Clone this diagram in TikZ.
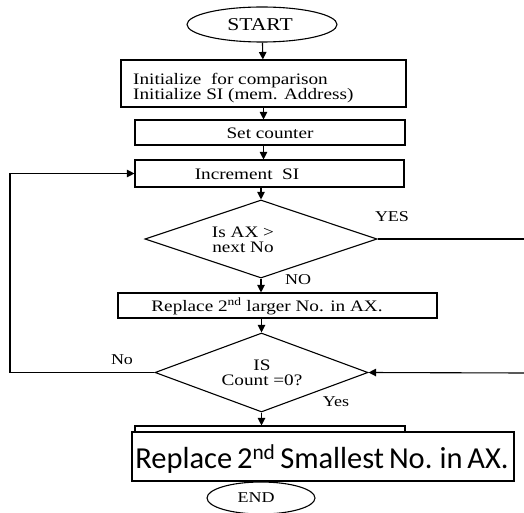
\documentclass[tikz,border=0pt]{standalone}
\usepackage{fontspec}
\setmainfont{Liberation Serif}[FakeStretch=1.2]
\newfontfamily\calib{Carlito}[WordSpace=0.7]
\usetikzlibrary{shapes.geometric,arrows.meta}
\begin{document}
\begin{tikzpicture}[x=1pt,y=-1pt,
  line/.style={line width=1.1pt},
  flow/.style={line, -{Triangle[length=7.5pt,width=7.5pt]}},
  box/.style={draw, line width=1.1pt, inner sep=0pt, rectangle},
  decision/.style={draw, diamond, line width=1.1pt, inner sep=0pt},
  terminal/.style={draw, ellipse, line width=1.1pt, inner sep=0pt},
  txt/.style={font=\fontsize{16}{15}\selectfont, inner sep=0pt, align=left},
  lbl/.style={font=\fontsize{15}{15}\selectfont, inner sep=0pt}]
\useasboundingbox (0,0) rectangle (524,513);

% terminals
\node[terminal, minimum width=150pt, minimum height=35pt] (start) at (262,24.5) {};
\node[font=\fontsize{18}{18}\selectfont, inner sep=0pt] (starttxt) at (260,25) {START};

% process boxes
\node[box, minimum width=285pt, minimum height=47pt] (init) at (263.5,83.5) {};
\node[txt, anchor=west] (inittxt) at (133,88) {Initialize \ for comparison\\Initialize SI (mem. Address)};

\node[box, minimum width=270pt, minimum height=25pt] (cnt) at (270,132.5) {};
\node[txt] (cnttxt) at (270,133) {Set counter};

\node[box, minimum width=269pt, minimum height=27pt] (inc) at (269.5,173.5) {};
\node[txt] (inctxt) at (247,174) {Increment \ SI};

% first decision
\node[decision, minimum width=232pt, minimum height=78pt] (d1) at (261,239) {};
\node[txt, align=center] (d1txt) at (243,240) {Is AX >\\next No};
\node[lbl] (yes1) at (392,217) {YES};
\node[lbl] (no1) at (298,280) {NO};

\node[box, minimum width=319pt, minimum height=25pt] (rep) at (277.5,305.5) {};
\node[txt] (reptxt) at (267,306) {Replace 2\textsuperscript{nd} larger No. in AX.};

% second decision
\node[decision, minimum width=213pt, minimum height=79pt] (d2) at (261.5,372.5) {};
\node[txt, align=center] (d2txt) at (262,373) {IS\\Count =0?};
\node[lbl] (no2) at (122,360) {No};
\node[lbl] (yes2) at (336,402) {Yes};

% last process box and its overlay
\node[box, minimum width=270pt, minimum height=34pt] (old) at (270,443) {};
\node[draw, line width=2pt, fill=white, minimum width=382pt, minimum height=49pt, inner sep=0pt] (big) at (322.5,456.5) {};
\node[font=\calib\fontsize{30.5}{30}\selectfont, inner sep=0pt] (bigtxt) at (322,459) {Replace 2\textsuperscript{nd} Smallest No. in AX.};

\node[terminal, minimum width=108pt, minimum height=32pt] (end) at (261,498) {};
\node[font=\fontsize{15}{15}\selectfont, inner sep=0pt] (endtxt) at (256,498) {END};

% corners of the two side paths, at the right edge
\coordinate (rtop) at (525,239);
\coordinate (rbot) at (525,373);
\coordinate (lbot) at (10,372.5);

% connectors
\draw[flow] (start) -- (init);
\draw[flow] (init) -- (cnt.north -| init.south);
\draw[flow] (cnt.south -| init.south) -- (inc.north -| init.south);
\draw[flow] (inc.south -| d1.north) -- (d1.north);
\draw[flow] (d1.south) -- (rep.north -| d1.south);
\draw[flow] (rep.south -| d2.north) -- (d2.north);
\draw[flow] (d2.south) -- (old.north -| d2.south);
\draw[line] (d1.east) -- (rtop) -- (rbot);
\draw[flow] (rbot) -- (d2.east);
\draw[flow] (d2.west) -- (lbot) |- (inc.west);
\end{tikzpicture}
\end{document}
